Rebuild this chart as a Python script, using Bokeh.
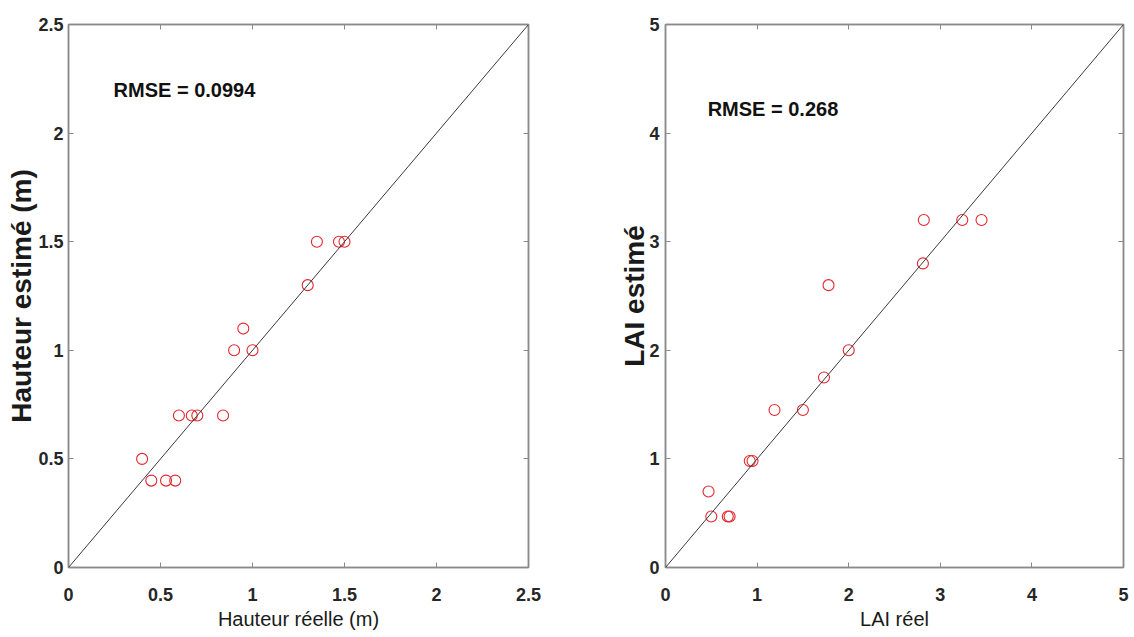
from bokeh.plotting import figure
from bokeh.models import Range1d, FixedTicker, LinearAxis, Label, Slope
from bokeh.layouts import row
from bokeh.embed import file_html
from bokeh.resources import INLINE

# ---------------- data ----------------
hauteur_reelle = [0.40, 0.45, 0.53, 0.58, 0.60, 0.67, 0.70, 0.84, 0.90, 0.95, 1.00, 1.30, 1.35, 1.47, 1.50]
hauteur_estime = [0.50, 0.40, 0.40, 0.40, 0.70, 0.70, 0.70, 0.70, 1.00, 1.10, 1.00, 1.30, 1.50, 1.50, 1.50]

lai_reel = [0.47, 0.50, 0.68, 0.70, 0.92, 0.95, 1.19, 1.50, 1.73, 1.78, 2.00, 2.81, 2.82, 3.24, 3.45]
lai_estime = [0.70, 0.47, 0.47, 0.47, 0.98, 0.98, 1.45, 1.45, 1.75, 2.60, 2.00, 2.80, 3.20, 3.20, 3.20]

h_limits = [0, 2.5]
h_ticks = [0, 0.5, 1, 1.5, 2, 2.5]
h_tick_labels = ["0", "0.5", "1", "1.5", "2", "2.5"]

lai_limits = [0, 5]
lai_ticks = [0, 1, 2, 3, 4, 5]
lai_tick_labels = ["0", "1", "2", "3", "4", "5"]

rmse_texts = ["RMSE = 0.0994", "RMSE = 0.268"]
x_titles = ["Hauteur réelle (m)", "LAI réel"]
y_titles = ["Hauteur estimé (m)", "LAI estimé"]

# ---------------- style ----------------
SANS = "Liberation Sans"
AXIS_GRAY = "#8a8a8a"
TEXT_DARK = "#262626"
RED = "#e3262d"


def style_axis(ax, ticks, labels, show_labels=True):
    ax.ticker = FixedTicker(ticks=ticks)
    ax.axis_line_color = AXIS_GRAY
    ax.axis_line_width = 1.5
    ax.major_tick_line_color = AXIS_GRAY
    ax.major_tick_in = 5
    ax.major_tick_out = 0
    ax.minor_tick_line_color = None
    ax.major_label_text_font = SANS
    ax.major_label_text_font_style = "bold"
    ax.major_label_text_color = TEXT_DARK
    if show_labels:
        ax.major_label_text_font_size = "18px"
        ax.major_label_overrides = {t: l for t, l in zip(ticks, labels)}
    else:
        ax.major_label_text_font_size = "0px"
        ax.major_label_standoff = 0
        ax.major_label_overrides = {t: "" for t in ticks}


def panel(xs, ys, limits, ticks, labels, xtitle, ytitle, rmse, rmse_xy,
          width, b_left, b_right, b_top, b_bottom, x_std, ylab_std, ytick_std):
    p = figure(width=width, height=637, output_backend="svg", toolbar_location=None,
               x_range=Range1d(limits[0], limits[1]), y_range=Range1d(limits[0], limits[1]),
               min_border_left=b_left, min_border_right=b_right,
               min_border_top=b_top, min_border_bottom=b_bottom,
               background_fill_color="white", border_fill_color="white")
    p.grid.visible = False
    p.outline_line_color = AXIS_GRAY
    p.outline_line_width = 1.5

    for ax in (p.xaxis[0], p.yaxis[0]):
        style_axis(ax, ticks, labels)
    p.xaxis[0].major_label_standoff = 20
    p.yaxis[0].major_label_standoff = ytick_std

    p.xaxis[0].axis_label = xtitle
    p.xaxis[0].axis_label_text_font = SANS
    p.xaxis[0].axis_label_text_font_style = "normal"
    p.xaxis[0].axis_label_text_font_size = "20px"
    p.xaxis[0].axis_label_text_color = "#1a1a1a"
    p.xaxis[0].axis_label_standoff = x_std

    p.yaxis[0].axis_label = ytitle
    p.yaxis[0].axis_label_text_font = SANS
    p.yaxis[0].axis_label_text_font_style = "bold"
    p.yaxis[0].axis_label_text_font_size = "28px"
    p.yaxis[0].axis_label_text_color = "#1a1a1a"
    p.yaxis[0].axis_label_standoff = ylab_std

    top = LinearAxis()
    style_axis(top, ticks, labels, show_labels=False)
    p.add_layout(top, "above")
    right = LinearAxis()
    style_axis(right, ticks, labels, show_labels=False)
    p.add_layout(right, "right")

    p.add_layout(Slope(gradient=1, y_intercept=0, line_color="#3a3a3a", line_width=1))

    p.scatter(xs, ys, marker="circle", size=11, fill_color=None,
              line_color=RED, line_width=1.1)

    p.add_layout(Label(x=rmse_xy[0], y=rmse_xy[1], text=rmse,
                       text_font=SANS, text_font_style="bold",
                       text_font_size="20px", text_color="#111111",
                       text_baseline="middle", text_align="left"))
    return p


p1 = panel(hauteur_reelle, hauteur_estime, h_limits, h_ticks, h_tick_labels,
           x_titles[0], y_titles[0], rmse_texts[0], (0.245, 2.20),
           width=615, b_left=68, b_right=87, b_top=24, b_bottom=69,
           x_std=4, ylab_std=-2, ytick_std=5)
p2 = panel(lai_reel, lai_estime, lai_limits, lai_ticks, lai_tick_labels,
           x_titles[1], y_titles[1], rmse_texts[1], (0.46, 4.22),
           width=519, b_left=50, b_right=11, b_top=20, b_bottom=70,
           x_std=4, ylab_std=-4, ytick_std=6)

layout = row(p1, p2)
open("out.html", "w").write(file_html(layout, INLINE))
